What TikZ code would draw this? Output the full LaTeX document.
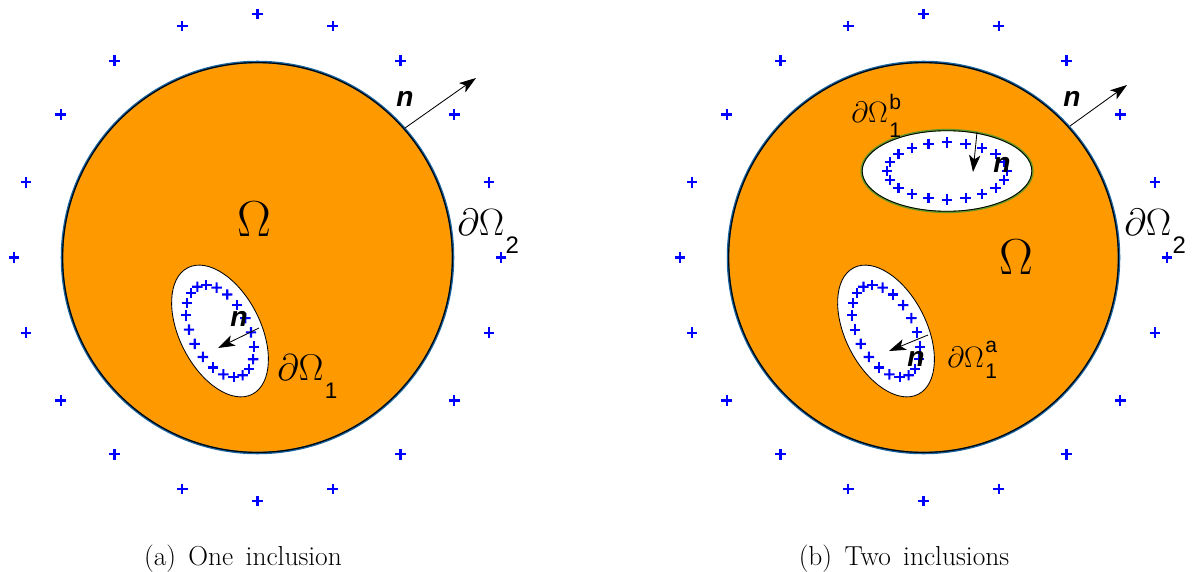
\RequirePackage{fix-cm}
\documentclass[tikz,border=0pt]{standalone}
\usepackage{fontspec}
\setsansfont{Liberation Sans}
\usetikzlibrary{arrows.meta}

\definecolor{domfill}{RGB}{255,153,0}
\definecolor{rimblue}{RGB}{25,100,160}
\definecolor{rimgreen}{RGB}{100,150,40}
\definecolor{markblue}{RGB}{0,0,255}

% sans scripts after \partial\Omega: size, sup, raise, sub, drop
\newcommand{\subsup}[5]{{\sffamily\fontsize{#1}{#1}\selectfont\kern1pt\rlap{\raisebox{#3}{#2}}\raisebox{-#5}{#4}}}
\newcommand{\captfont}{\fontsize{19.5}{22}\selectfont\spaceskip=0.45em plus 0.1em\relax}

\begin{document}
\begin{tikzpicture}[x=0.025cm, y=-0.025cm, >={Stealth[length=12pt, width=8pt, inset=3pt]},
    pmark/.style={inner sep=0pt, minimum size=7pt},
    pline/.style={draw=markblue, line width=1.5pt},
    nvec/.style={->, line width=0.6pt},
    nlbl/.style={anchor=base, inner sep=0pt, font=\fontsize{20}{20}\selectfont\sffamily\bfseries\itshape},
    bnd/.style={anchor=base west, inner sep=0pt},
    capt/.style={anchor=base, inner sep=0pt, font=\captfont}]
    \useasboundingbox (0,0) rectangle (1194,571);

    % (a) Miền ngoài
    \fill[domfill] (257.5,257.5) circle[radius=195.5];
    \draw[rimblue, line width=1.8pt] (257.5,257.5) circle[radius=195.5];
    \draw[line width=0.8pt] (257.5,257.5) circle[radius=194.9];
    \begin{scope}[shift={(257.5,257.5)}]
        \foreach \a [count=\i] in {0,18,...,342} {
            \node[pmark] (pA\i) at (\a:243.3) {};
            \draw[pline] (pA\i.north) -- (pA\i.south) (pA\i.west) -- (pA\i.east);
        }
    \end{scope}

    % (a) Lỗ hổng
    \begin{scope}[shift={(220,331)}, rotate=-63]
        \draw[fill=white, line width=0.6pt] (0,0) ellipse[x radius=71, y radius=40.5];
        \foreach \a [count=\i] in {0,18,...,342} {
            \node[pmark] (qA\i) at (\a:49.7 and 28.4) {};
            \draw[pline] (qA\i.north) -- (qA\i.south) (qA\i.west) -- (qA\i.east);
        }
    \end{scope}

    % (a) Pháp tuyến
    \coordinate (oA) at (405,128);
    \coordinate (oAtip) at (476,78);
    \draw[nvec] (oA) -- (oAtip);
    \node[nlbl] (nOA) at (405,107) {n};
    \coordinate (iA) at (259,328);
    \coordinate (iAtip) at (218,348);
    \draw[nvec] (iA) -- (iAtip);
    \node[nlbl] (nIA) at (239,326) {n};

    % (a) Nhãn
    \node[anchor=base, inner sep=0pt, font=\fontsize{36}{36}\selectfont] (omA) at (254,236) {$\Omega$};
    \node[bnd, font=\fontsize{27}{30}\selectfont] (dO2A) at (457,235) {$\partial\Omega$\subsup{17pt}{}{0pt}{2}{12.8pt}};
    \node[bnd, font=\fontsize{26.5}{30}\selectfont] (dO1A) at (277,380) {$\partial\Omega$\subsup{16pt}{}{0pt}{1}{12.8pt}};
    \node[capt] (capA) at (243,565) {(a) One inclusion};

    % (b) Miền ngoài
    \fill[domfill] (923.5,257.5) circle[radius=195.5];
    \draw[rimblue, line width=1.8pt] (923.5,257.5) circle[radius=195.5];
    \draw[line width=0.8pt] (923.5,257.5) circle[radius=194.9];
    \begin{scope}[shift={(923.5,257.5)}]
        \foreach \a [count=\i] in {0,18,...,342} {
            \node[pmark] (pB\i) at (\a:243.3) {};
            \draw[pline] (pB\i.north) -- (pB\i.south) (pB\i.west) -- (pB\i.east);
        }
    \end{scope}

    % (b) Lỗ hổng a
    \begin{scope}[shift={(886,331)}, rotate=-63]
        \draw[fill=white, line width=0.6pt] (0,0) ellipse[x radius=71, y radius=40.5];
        \foreach \a [count=\i] in {0,18,...,342} {
            \node[pmark] (qa\i) at (\a:49.7 and 28.4) {};
            \draw[pline] (qa\i.north) -- (qa\i.south) (qa\i.west) -- (qa\i.east);
        }
    \end{scope}

    % (b) Lỗ hổng b
    \draw[fill=white, draw=rimgreen, line width=1.6pt] (947,171) ellipse[x radius=85.5, y radius=41];
    \draw[line width=0.6pt] (947,171) ellipse[x radius=84.8, y radius=40.3];
    \begin{scope}[shift={(947,171)}]
        \foreach \a [count=\i] in {0,18,...,342} {
            \node[pmark] (qb\i) at (\a:60 and 28.7) {};
            \draw[pline] (qb\i.north) -- (qb\i.south) (qb\i.west) -- (qb\i.east);
        }
    \end{scope}

    % (b) Pháp tuyến
    \coordinate (oB) at (1070,126);
    \coordinate (oBtip) at (1127,85);
    \draw[nvec] (oB) -- (oBtip);
    \node[nlbl] (nOB) at (1072,107) {n};
    \coordinate (ia) at (928,335);
    \coordinate (iatip) at (889,351);
    \draw[nvec] (ia) -- (iatip);
    \node[nlbl] (nIa) at (916,366) {n};
    \coordinate (ib) at (977,132);
    \coordinate (ibtip) at (973,172);
    \draw[nvec] (ib) -- (ibtip);
    \node[nlbl] (nIb) at (1002,172) {n};

    % (b) Nhãn
    \node[anchor=base, inner sep=0pt, font=\fontsize{36}{36}\selectfont] (omB) at (1016,274) {$\Omega$};
    \node[bnd, font=\fontsize{27}{30}\selectfont] (dO2B) at (1124,235) {$\partial\Omega$\subsup{17pt}{}{0pt}{2}{12.8pt}};
    \node[bnd, font=\fontsize{21}{24}\selectfont] (dO1b) at (851,123) {$\partial\Omega$\subsup{15pt}{b}{9.5pt}{1}{10pt}};
    \node[bnd, font=\fontsize{21}{24}\selectfont] (dO1a) at (947,367) {$\partial\Omega$\subsup{15pt}{a}{10pt}{1}{8pt}};
    \node[capt] (capB) at (904,565) {(b) Two inclusions};
\end{tikzpicture}
\end{document}
